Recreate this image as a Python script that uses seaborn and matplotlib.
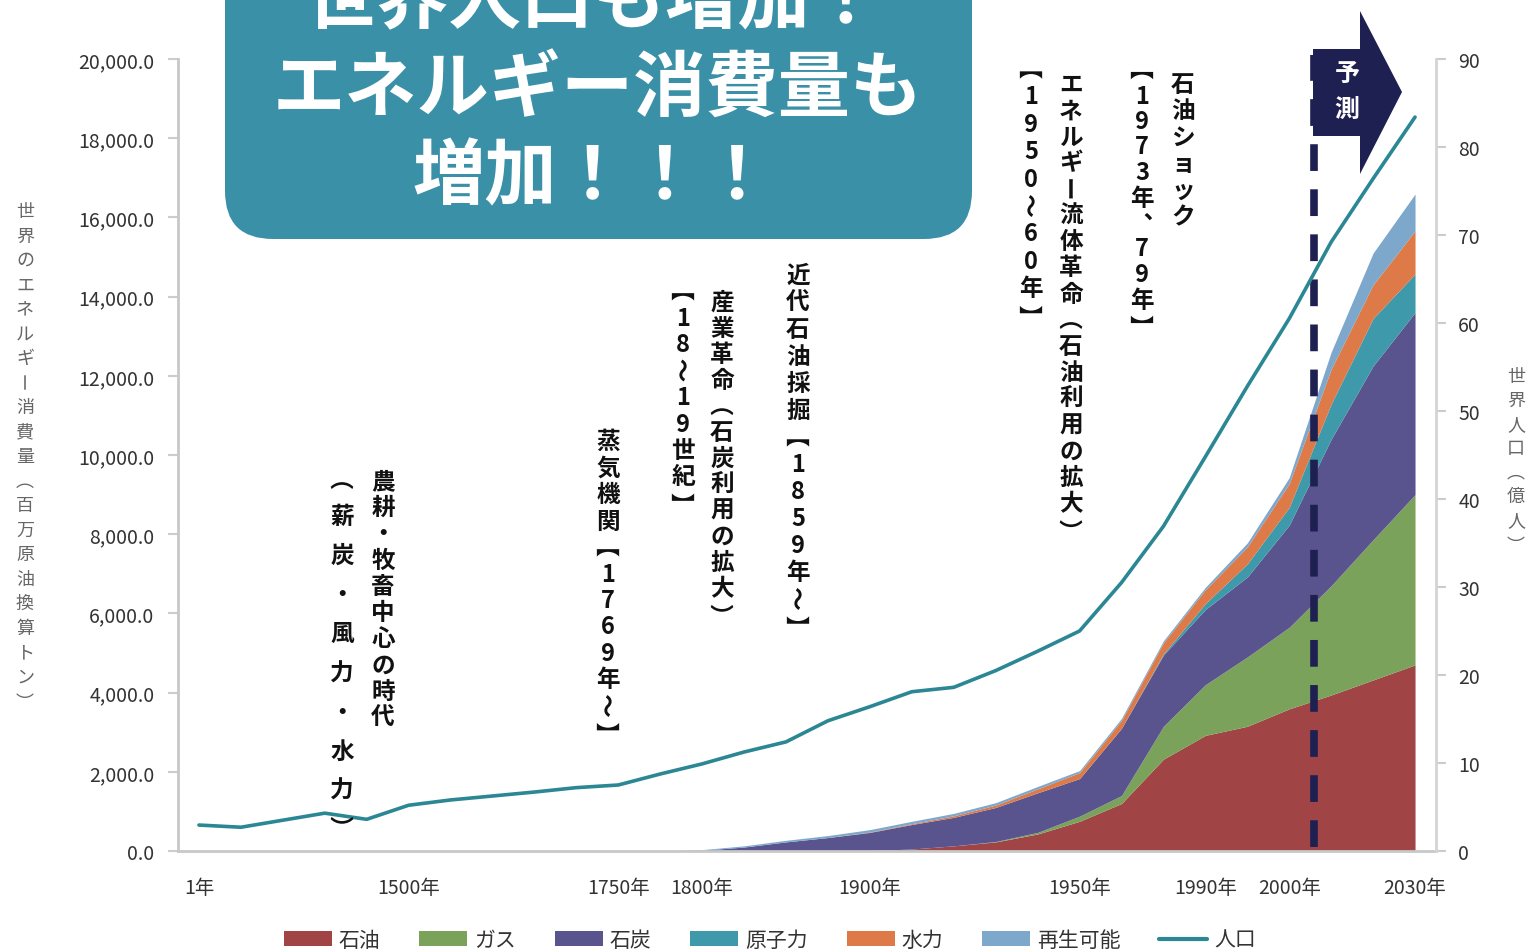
import matplotlib
matplotlib.use("Agg")
import matplotlib.pyplot as plt
import matplotlib.transforms as mtransforms
from matplotlib.patches import FancyBboxPatch, Polygon, Patch, PathPatch
from matplotlib.lines import Line2D
from matplotlib.ticker import FuncFormatter
from matplotlib.textpath import TextPath
from matplotlib.font_manager import FontProperties
import numpy as np
import seaborn as sns

# --- data (one value per category on the x axis) ---
X_LABELS = ["1年", "", "", "", "", "1500年", "", "", "", "", "1750年", "", "1800年", "", "",
            "", "1900年", "", "", "", "", "1950年", "", "", "1990年", "", "2000年", "", "", "2030年"]

# million tonnes oil equivalent
OIL = [0, 0, 0, 0, 0, 0, 0, 0, 0, 0, 0, 0, 0, 0, 0,
       0, 10, 50, 130, 230, 430, 750, 1200, 2320, 2920, 3150, 3590, 3940, 4320, 4700]
GAS = [0, 0, 0, 0, 0, 0, 0, 0, 0, 0, 0, 0, 0, 0, 0,
       0, 0, 0, 0, 10, 40, 130, 200, 830, 1280, 1750, 2060, 2760, 3540, 4300]
COAL = [0, 0, 0, 0, 0, 0, 0, 0, 0, 0, 0, 0, 20, 100, 230,
        340, 460, 620, 720, 860, 1000, 950, 1700, 1800, 1900, 2020, 2580, 3700, 4390, 4600]
NUCLEAR = [0, 0, 0, 0, 0, 0, 0, 0, 0, 0, 0, 0, 0, 0, 0,
           0, 0, 0, 0, 0, 0, 0, 0, 30, 150, 330, 450, 890, 1200, 970]
HYDRO = [0, 0, 0, 0, 0, 0, 0, 0, 0, 0, 0, 0, 0, 0, 0,
         0, 10, 20, 40, 60, 100, 150, 200, 280, 350, 430, 600, 880, 850, 1090]
RENEW = [0, 0, 0, 0, 0, 0, 0, 0, 0, 0, 0, 0, 15, 30, 40,
         50, 60, 60, 60, 60, 60, 50, 50, 50, 60, 100, 150, 430, 800, 930]

# world population (100 million people)
POPULATION = [2.95, 2.7, 3.5, 4.3, 3.6, 5.2, 5.8, 6.25, 6.7, 7.2, 7.5, 8.75, 9.9, 11.25, 12.4,
              14.8, 16.4, 18.1, 18.6, 20.5, 22.7, 25.0, 30.5, 36.9, 44.8, 52.8, 60.5, 69.2, 76.4, 83.4]

SOURCES = ["石油", "ガス", "石炭", "原子力", "水力", "再生可能"]
COLORS = ["#A04446", "#7BA25A", "#5A548E", "#3E9AAA", "#DD7A48", "#7DA8CC"]
LINE_COLOR = "#2B8794"
NAVY = "#1F2052"
CJK = "Noto Sans CJK JP"

W, H = 1531, 953


def fx(x):
    return x / W


def fy(y):
    return 1 - y / H


OPENING = set("（【")
CLOSING = set("）】")
TURNED = set("（）【】ー〜")


def glyph(fig, ch, xc, yc, size_pt, color, weight, rot, zorder=3):
    """Draw one character as a path, ink-centred at (xc, yc) px, rotated."""
    prop = FontProperties(family=CJK, weight=weight)
    tp = TextPath((0, 0), ch, size=size_pt * 100 / 72, prop=prop)
    bb = tp.get_extents()
    cx, cy = (bb.x0 + bb.x1) / 2, (bb.y0 + bb.y1) / 2
    tr = mtransforms.Affine2D().translate(-cx, -cy).rotate_deg(rot).translate(xc, H - yc)
    fig.patches.append(PathPatch(tp, transform=tr, facecolor=color, edgecolor="none",
                                 lw=0, zorder=zorder))


def vtext(fig, x, y0, s, step, fontsize=17, fontweight="normal", color="black", zorder=3):
    """Stack characters top-to-bottom like Japanese vertical writing."""
    for k, ch in enumerate(s):
        yy = y0 + k * step
        if ch in TURNED:
            shift = 0.22 * step if ch in OPENING else (-0.22 * step if ch in CLOSING else 0)
            glyph(fig, ch, x, yy + shift, fontsize, color, fontweight, -90, zorder)
        elif ch == "、":
            glyph(fig, ch, x + 0.25 * step, yy - 0.25 * step, fontsize, color, fontweight, 0, zorder)
        else:
            fig.text(fx(x), fy(yy), ch, ha="center", va="center", fontsize=fontsize,
                     fontweight=fontweight, color=color, zorder=zorder)


def main():
    sns.set_style("white")
    plt.rcParams["font.family"] = [CJK, "DejaVu Sans"]

    x = np.arange(len(POPULATION))
    fig = plt.figure(figsize=(W / 100, H / 100), dpi=100)
    ax = fig.add_axes([fx(178), fy(852), (1436 - 178) / W, (852 - 60) / H])

    # --- stacked energy areas ---
    ax.stackplot(x, OIL, GAS, COAL, NUCLEAR, HYDRO, RENEW, colors=COLORS, linewidth=0)
    ax.set_xlim(-0.5, len(x) - 0.5)
    ax.set_ylim(0, 20000)
    ax.set_yticks(np.arange(0, 20001, 2000))
    ax.yaxis.set_major_formatter(FuncFormatter(lambda v, p: f"{v:,.1f}"))
    ax.set_xticks(x)
    ax.set_xticklabels(X_LABELS)
    ax.set_xticks(np.arange(-0.5, len(x), 1), minor=True)
    ax.tick_params(axis="x", which="major", length=0, pad=19, labelsize=14, labelcolor="#333333")
    ax.tick_params(axis="x", which="minor", length=7, width=1.5, color="#c4c4c4", direction="out")
    ax.tick_params(axis="y", length=7, width=1.5, color="#cccccc", direction="out",
                   labelsize=14, labelcolor="#333333", pad=10)
    for side in ["top", "right"]:
        ax.spines[side].set_visible(False)
    for side in ["left", "bottom"]:
        ax.spines[side].set_color("#c8c8c8")
        ax.spines[side].set_linewidth(2)

    # forecast marker
    ax.axvline(26.6, ymin=0.005, ymax=1.005, color=NAVY, lw=5.5,
               linestyle=(0, (3.5, 2.4)), clip_on=False, zorder=5)

    # --- population line on right axis ---
    ax2 = ax.twinx()
    sns.lineplot(x=x, y=POPULATION, ax=ax2, color=LINE_COLOR, lw=2.6)
    ax2.set_ylim(0, 90)
    ax2.set_yticks(np.arange(0, 91, 10))
    ax2.set_ylabel("")
    ax2.tick_params(axis="y", length=7, width=1.5, color="#cccccc", direction="out",
                    labelsize=14, labelcolor="#333333", pad=9)
    for side in ["top", "left", "bottom"]:
        ax2.spines[side].set_visible(False)
    ax2.spines["right"].set_color("#d4d4d4")
    ax2.spines["right"].set_linewidth(2)

    # --- axis titles (vertical) ---
    vtext(fig, 25, 212, "世界のエネルギー消費量（百万原油換算トン）", 24.5,
          fontsize=13, color="#666666")
    vtext(fig, 1516, 377, "世界人口（億人）", 24, fontsize=13, color="#666666")

    # --- historical annotations ---
    kw = dict(fontsize=17, fontweight="bold", color="#111111")
    vtext(fig, 383, 482, "農耕・牧畜中心の時代", 26.2, **kw)
    vtext(fig, 342, 478, "（薪炭・風力・水力）", 39.1, **kw)
    vtext(fig, 608, 442, "蒸気機関【1769年〜】", 26.5, **kw)
    vtext(fig, 683, 292, "【18〜19世紀】", 26.5, **kw)
    vtext(fig, 722, 303, "産業革命（石炭利用の拡大）", 26, **kw)
    vtext(fig, 798, 276, "近代石油採掘【1859年〜】", 27, **kw)
    vtext(fig, 1031, 70, "【1950〜60年】", 27.4, **kw)
    vtext(fig, 1071, 85, "エネルギー流体革命（石油利用の拡大）", 26.2, **kw)
    vtext(fig, 1142, 71, "【1973年、79年】", 25.5, **kw)
    vtext(fig, 1183, 85, "石油ショック", 26.4, **kw)

    # --- headline box ---
    ident = mtransforms.IdentityTransform()
    box = FancyBboxPatch((225, H - 240), 972 - 225, 320,
                         boxstyle="round,pad=0,rounding_size=48",
                         transform=ident, facecolor="#3A90A7", edgecolor="none", zorder=10)
    fig.patches.append(box)
    head_kw = dict(ha="center", va="center", fontsize=52, fontweight="bold", color="white", zorder=11)
    fig.text(fx(593), fy(2), "世界人口も増加！", **head_kw)
    fig.text(fx(598), fy(90), "エネルギー消費量も", **head_kw)
    fig.text(fx(593), fy(178), "増加！！！", **head_kw)

    # --- forecast arrow ---
    pts = [(1313, 50), (1360, 50), (1360, 12), (1402, 93), (1360, 175), (1360, 137), (1313, 137)]
    arrow = Polygon([(px, H - py) for px, py in pts], closed=True, transform=ident,
                    facecolor=NAVY, edgecolor="none", zorder=10)
    fig.patches.append(arrow)
    vtext(fig, 1347, 74, "予測", 36, fontsize=18, fontweight="bold", color="white", zorder=11)

    # --- legend ---
    handles = [Patch(facecolor=c, edgecolor="none", label=l) for c, l in zip(COLORS, SOURCES)]
    handles.append(Line2D([], [], color=LINE_COLOR, lw=3, label="人口"))
    fig.legend(handles=handles, loc="center", bbox_to_anchor=(fx(770), fy(941)), ncol=7,
               frameon=False, fontsize=15, handlelength=2.3, handleheight=0.7,
               handletextpad=0.35, columnspacing=1.85, labelcolor="#333333")

    fig.savefig("out.png", dpi=100)


if __name__ == "__main__":
    main()
